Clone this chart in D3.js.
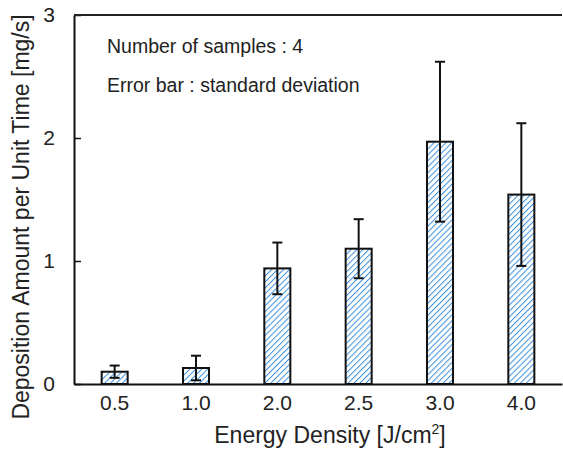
<!DOCTYPE html>
<html>
<head>
<meta charset="utf-8">
<script src="https://cdn.jsdelivr.net/npm/d3@7"></script>
<style>
  body { margin: 0; background: #fff; }
  text { font-family: "Liberation Sans", Arial, sans-serif; fill: #222; }
</style>
</head>
<body>
<script>
const categories = ["0.5", "1.0", "2.0", "2.5", "3.0", "4.0"];
const means = [0.10, 0.13, 0.94, 1.10, 1.97, 1.54];
const stdevs = [0.05, 0.10, 0.21, 0.24, 0.65, 0.58];
const yTicks = [0, 1, 2, 3];

const W = 563, H = 450;
const margin = {top: 15, right: 1, bottom: 66, left: 74},
      width = W - margin.left - margin.right,
      height = H - margin.top - margin.bottom;

const svg = d3.select("body").append("svg")
  .attr("width", W)
  .attr("height", H);

const defs = svg.append("defs");
const pat = defs.append("pattern")
  .attr("id", "hatch")
  .attr("patternUnits", "userSpaceOnUse")
  .attr("width", 4.2)
  .attr("height", 4.2)
  .attr("patternTransform", "rotate(45)");
pat.append("rect").attr("width", 4.2).attr("height", 4.2).attr("fill", "#fff");
pat.append("line")
  .attr("x1", 0).attr("y1", 0).attr("x2", 0).attr("y2", 4.2)
  .attr("stroke", "#3c8fdd")
  .attr("stroke-width", 2);

const g = svg.append("g")
  .attr("transform", "translate(" + margin.left + "," + margin.top + ")");

const x = d3.scaleBand()
  .domain(categories)
  .range([0, width])
  .paddingInner(0.68)
  .paddingOuter(0.34);
const y = d3.scaleLinear()
  .domain([0, 3])
  .range([height, 0]);

// bars
g.selectAll(".bar")
  .data(means)
  .enter()
  .append("rect")
  .attr("class", "bar")
  .attr("x", function(d, i) { return x(categories[i]); })
  .attr("y", function(d) { return y(d); })
  .attr("width", x.bandwidth())
  .attr("height", function(d) { return y(0) - y(d); })
  .attr("fill", "url(#hatch)")
  .attr("stroke", "#111")
  .attr("stroke-width", 2);

// error bars
const err = g.selectAll(".err")
  .data(means)
  .enter()
  .append("g")
  .attr("class", "err")
  .attr("stroke", "#111")
  .attr("stroke-width", 2);
const cx = function(d, i) { return x(categories[i]) + x.bandwidth() / 2; };
err.append("line")
  .attr("x1", cx).attr("x2", cx)
  .attr("y1", function(d, i) { return y(d + stdevs[i]); })
  .attr("y2", function(d, i) { return y(d - stdevs[i]); });
err.append("line")
  .attr("x1", function(d, i) { return cx(d, i) - 5; })
  .attr("x2", function(d, i) { return cx(d, i) + 5; })
  .attr("y1", function(d, i) { return y(d + stdevs[i]); })
  .attr("y2", function(d, i) { return y(d + stdevs[i]); });
err.append("line")
  .attr("x1", function(d, i) { return cx(d, i) - 5; })
  .attr("x2", function(d, i) { return cx(d, i) + 5; })
  .attr("y1", function(d, i) { return y(d - stdevs[i]); })
  .attr("y2", function(d, i) { return y(d - stdevs[i]); });

// axes
const yAxis = d3.axisLeft(y)
  .tickValues(yTicks)
  .tickFormat(d3.format("d"))
  .tickSizeInner(-7)
  .tickSizeOuter(0)
  .tickPadding(19);
const ya = g.append("g").attr("class", "axis y").call(yAxis);
ya.select(".domain").attr("stroke", "#111").attr("stroke-width", 2);
ya.selectAll(".tick line").attr("stroke", "#111").attr("stroke-width", 1.5);
ya.selectAll(".tick text").attr("font-size", 21).style("font-family", "Liberation Sans, Arial, sans-serif").attr("fill", "#222");

const xAxis = d3.axisBottom(x).tickSize(0).tickPadding(11);
const xa = g.append("g")
  .attr("class", "axis x")
  .attr("transform", "translate(0," + height + ")")
  .call(xAxis);
xa.select(".domain").attr("stroke", "#111").attr("stroke-width", 2);
xa.selectAll(".tick text").attr("font-size", 21).style("font-family", "Liberation Sans, Arial, sans-serif").attr("fill", "#222");

// top border
g.append("line")
  .attr("x1", 0).attr("x2", width)
  .attr("y1", 0).attr("y2", 0)
  .attr("stroke", "#222").attr("stroke-width", 2);

// annotations
g.append("text")
  .attr("x", 33).attr("y", 38)
  .attr("font-size", 19.5)
  .text("Number of samples : 4");
g.append("text")
  .attr("x", 33).attr("y", 77)
  .attr("font-size", 19.5)
  .text("Error bar : standard deviation");

// axis titles
const xt = svg.append("text")
  .attr("x", 330).attr("y", 443)
  .attr("text-anchor", "middle")
  .attr("font-size", 23);
xt.append("tspan").text("Energy Density [J/cm");
xt.append("tspan").attr("font-size", 14).attr("dy", -9).text("2");
xt.append("tspan").attr("dy", 9).text("]");

svg.append("text")
  .attr("transform", "translate(29,217) rotate(-90)")
  .attr("text-anchor", "middle")
  .attr("font-size", 23)
  .text("Deposition Amount per Unit Time [mg/s]");
</script>
</body>
</html>
